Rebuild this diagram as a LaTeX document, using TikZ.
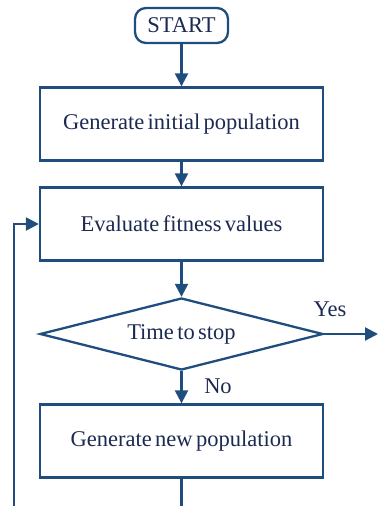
\documentclass[tikz,border=0pt]{standalone}
\usepackage{fontspec}
\setmainfont{Liberation Serif}[WordSpace=0.6]
\usetikzlibrary{arrows.meta,shapes.geometric}
\definecolor{ln}{HTML}{1F4E7E}
\definecolor{tx}{HTML}{1C2A52}
\tikzset{
  x=1pt,y=-1pt,
  flow/.style={draw=ln,line width=2.3pt},
  boxnode/.style={flow,minimum width=283pt,minimum height=73pt,inner sep=0pt,text=tx,font=\fontsize{22.5}{26}\selectfont},
  startnode/.style={flow,rounded corners=11pt,minimum width=93pt,minimum height=35pt,inner sep=0pt,text=tx,font=\fontsize{22.5}{26}\selectfont},
  decnode/.style={flow,diamond,aspect=3.93,minimum width=283pt,minimum height=72pt,inner sep=0pt,text=tx,font=\fontsize{22.5}{26}\selectfont},
  arr/.style={draw=ln,line width=2.3pt,-{Triangle[width=13pt,length=13pt]}},
  lbl/.style={text=tx,font=\fontsize{22.5}{26}\selectfont}
}
\begin{document}
\begin{tikzpicture}
\useasboundingbox (0,0) rectangle (378,506);
\node[startnode] (start) at (181.5,25.5) {START};
\node[boxnode] (gen) at (181.5,124) {Generate initial population};
\node[boxnode] (eval) at (181.5,224) {Evaluate fitness values};
\node[decnode] (dec) at (181.5,334) {Time to stop};
\node[boxnode] (newp) at (181.5,441) {Generate new population};
\coordinate (yesend) at (378,334);
\coordinate (bot) at (181.5,506);
\coordinate (lb) at (14,506);
\coordinate (lt) at (14,224);
\draw[arr] (start) -- (gen);
\draw[arr] (gen) -- (eval);
\draw[arr] (eval) -- (dec);
\draw[arr] (dec.east) -- (yesend);
\draw[arr] (dec.south) -- (newp.north);
\draw[flow] (newp.south) -- (bot);
\draw[arr] (lb) -- (lt) -- (eval.west);
\node[lbl] (yes) at (330,309) {Yes};
\node[lbl] (no) at (218,386) {No};
\end{tikzpicture}
\end{document}
